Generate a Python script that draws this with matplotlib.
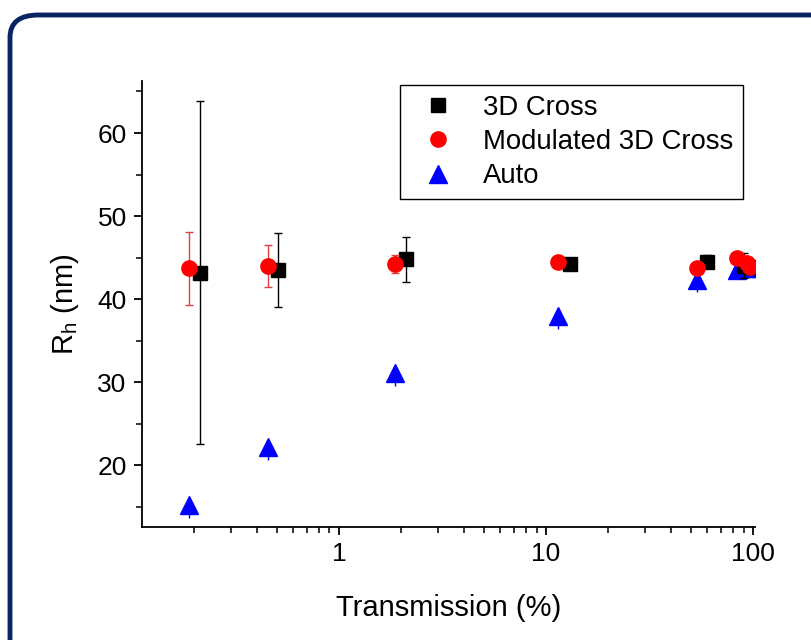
import numpy as np
import matplotlib
matplotlib.use('Agg')
import matplotlib.pyplot as plt
from matplotlib.patches import FancyBboxPatch
from matplotlib.ticker import FixedLocator, LogLocator, NullFormatter, FuncFormatter

plt.rcParams['font.family'] = ['Liberation Sans', 'DejaVu Sans']
plt.rcParams['mathtext.fontset'] = 'custom'
plt.rcParams['mathtext.rm'] = 'Liberation Sans'

# 3D Cross
cross_x = [0.214, 0.507, 2.11, 13.1, 60.0, 90.0, 96.0]
cross_y = [43.2, 43.5, 44.8, 44.2, 44.5, 44.0, 43.9]
cross_err = [20.7, 4.5, 2.7, 0.5, 0.8, 1.5, 0.8]

# Modulated 3D Cross
mod_x = [0.188, 0.453, 1.86, 11.4, 53.8, 83.4, 93.0, 97.0]
mod_y = [43.7, 44.0, 44.25, 44.5, 43.8, 44.9, 44.4, 43.9]
mod_err = [4.4, 2.55, 1.05, 0.3, 0.3, 0.5, 0.6, 0.6]

# Auto (only the lower whisker shows)
auto_x = [0.188, 0.453, 1.86, 11.4, 53.8, 83.4, 93.0, 97.0]
auto_y = [15.2, 22.2, 31.1, 38.0, 42.3, 43.5, 43.7, 43.8]
auto_err = [1.6, 1.6, 1.6, 1.6, 1.4, 1.1, 1.1, 1.1]

fig = plt.figure(figsize=(8.11, 6.4), dpi=100)

# rounded frame around the chart
frame = FancyBboxPatch((10 / 811, -40 / 640), 840 / 811, 665 / 640,
                       boxstyle="round,pad=0,rounding_size=0.035",
                       transform=fig.transFigure, facecolor='white',
                       edgecolor='#0a2463', linewidth=3.5, zorder=-10)
fig.add_artist(frame)

ax = fig.add_axes([142 / 811, (640 - 526.7) / 640, (755 - 142) / 811, (526.7 - 80.7) / 640])
ax.set_zorder(5)
ax.patch.set_alpha(0)

ax.errorbar(auto_x, auto_y, yerr=[auto_err, np.zeros(len(auto_err))], fmt='^', color='blue',
            ms=12.5, ecolor='blue', elinewidth=1, capsize=0, label='Auto', zorder=3)
ax.errorbar(cross_x, cross_y, yerr=cross_err, fmt='s', color='black', ms=10,
            ecolor='black', elinewidth=1, capsize=3, label='3D Cross', zorder=4)
ax.errorbar(mod_x, mod_y, yerr=mod_err, fmt='o', color='red', ms=11,
            ecolor='#e04040', elinewidth=1, capsize=3, label='Modulated 3D Cross', zorder=5)

ax.set_xscale('log')
ax.set_xlim(0.112, 102)
ax.set_ylim(12.6, 66.3)

ax.xaxis.set_major_locator(FixedLocator([1, 10, 100]))
ax.xaxis.set_major_formatter(FuncFormatter(lambda v, p: '%g' % v))
ax.xaxis.set_minor_locator(LogLocator(base=10, subs=np.arange(2, 10)))
ax.xaxis.set_minor_formatter(NullFormatter())
ax.yaxis.set_major_locator(FixedLocator([20, 30, 40, 50, 60]))
ax.yaxis.set_minor_locator(FixedLocator([15, 25, 35, 45, 55, 65]))

ax.spines['top'].set_visible(False)
ax.spines['right'].set_visible(False)
for s in ['left', 'bottom']:
    ax.spines[s].set_linewidth(1.3)
ax.tick_params(which='major', direction='out', length=6, width=1.3, labelsize=19, pad=5)
ax.tick_params(which='minor', direction='out', length=4, width=1.1)

ax.set_xlabel('Transmission (%)', fontsize=21, labelpad=20)
ax.set_ylabel(r'R$_\mathrm{h}$ (nm)', fontsize=21, labelpad=12)

handles, labels = ax.get_legend_handles_labels()
order = [1, 2, 0]
leg = ax.legend([handles[i][0] for i in order], [labels[i] for i in order],
                loc='upper right', bbox_to_anchor=(0.980, 0.990), borderaxespad=0,
                fontsize=19.8, fancybox=False, edgecolor='black', framealpha=1,
                handletextpad=0.6, borderpad=0.35, labelspacing=0.3, handlelength=2.06)
leg.get_frame().set_linewidth(1.0)

fig.savefig('out.png', dpi=100)
